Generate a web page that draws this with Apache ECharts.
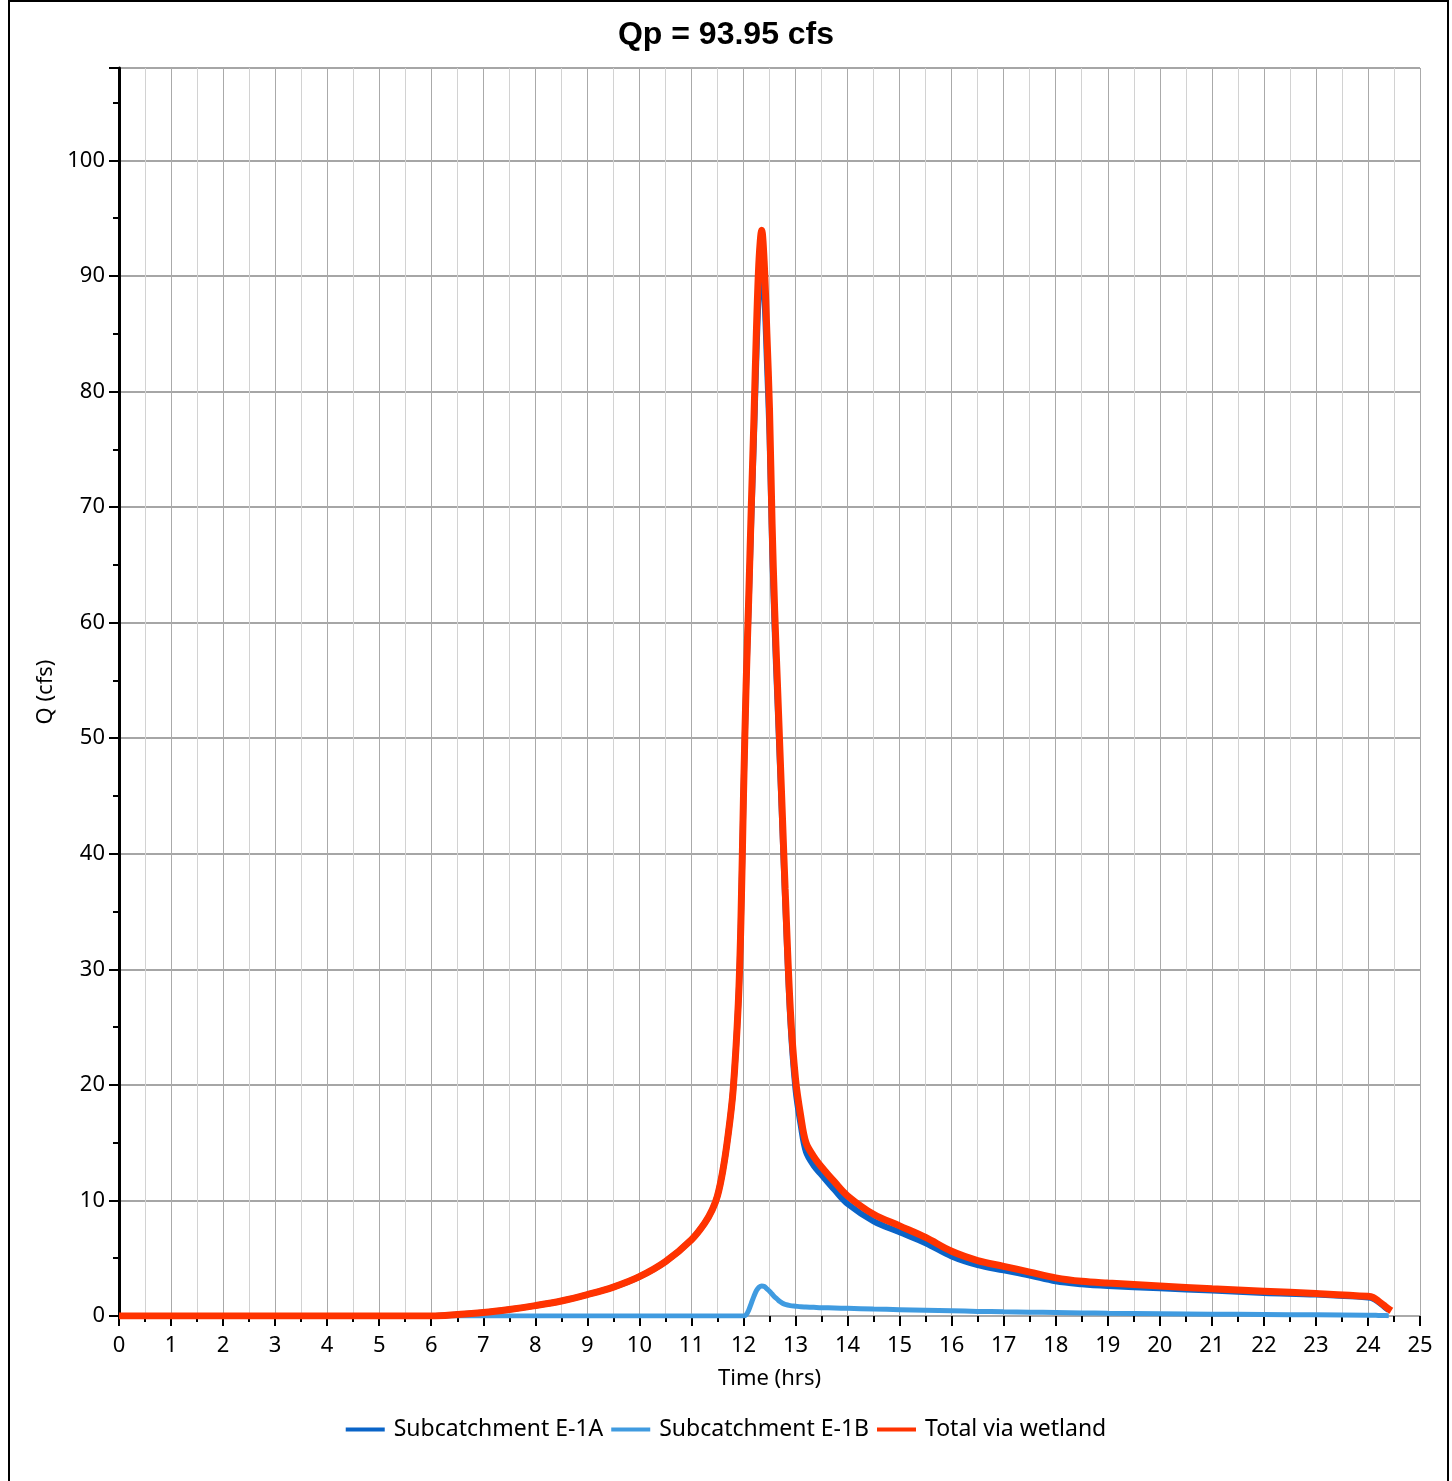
<!DOCTYPE html>
<html>
<head>
<meta charset="utf-8">
<script src="https://cdn.jsdelivr.net/npm/echarts@6/dist/echarts.min.js"></script>
<style>
  html, body { margin: 0; padding: 0; background: #fff; }
  #chart { width: 1452px; height: 1481px; }
</style>
</head>
<body>
<div id="chart"></div>
<script>
// time in hours
const hours = [0, 6, 6.5, 7, 7.5, 8, 8.5, 9, 9.5, 10, 10.5, 11, 11.25, 11.4, 11.5, 11.6, 11.7, 11.8, 11.9, 11.95,
  12, 12.05, 12.1, 12.15, 12.2, 12.25, 12.3, 12.35, 12.4, 12.45, 12.5, 12.55, 12.6, 12.65, 12.7, 12.75, 12.8,
  12.9, 13, 13.1, 13.2, 13.35, 13.5, 13.75, 14, 14.5, 15, 15.5, 16, 16.5, 17, 17.5, 18, 18.5, 19,
  20, 21, 22, 23, 24, 24.1, 24.2, 24.3, 24.4, 24.45];

// Subcatchment E-1A (cfs)
const flowE1A = [0, 0, 0.12, 0.3, 0.57, 0.9, 1.3, 1.85, 2.5, 3.4, 4.7, 6.6, 8.0, 9.2, 10.4, 12.5, 15.5, 19.5, 27, 34,
  45, 54.4, 61.5, 68.9, 75.8, 83.3, 89.0, 91.3, 88.4, 82.6, 76.3, 66.6, 59.3, 53.5, 47.7, 41.9, 36.0,
  25.6, 19.6, 16.5, 14.2, 13.0, 12.2, 10.9, 9.7, 8.2, 7.25, 6.3, 5.15, 4.4, 3.95, 3.5, 3.0, 2.75, 2.6,
  2.4, 2.2, 2.0, 1.85, 1.6, 1.5, 1.2, 0.85, 0.5, null];

// Subcatchment E-1B (cfs)
const flowE1B = [0, 0, 0, 0, 0, 0, 0, 0, 0, 0, 0, 0, 0, 0, 0, 0, 0, 0, 0, 0,
  0, 0.1, 0.5, 1.1, 1.7, 2.2, 2.5, 2.6, 2.55, 2.35, 2.15, 1.9, 1.65, 1.45, 1.25, 1.1, 1.0,
  0.9, 0.85, 0.8, 0.78, 0.75, 0.72, 0.69, 0.66, 0.6, 0.55, 0.5, 0.45, 0.4, 0.36, 0.33, 0.3, 0.27, 0.24,
  0.2, 0.16, 0.13, 0.1, 0.07, 0.06, 0.05, 0.04, 0.03, null];

// Total via wetland (cfs)
const flowTotal = [0, 0, 0.12, 0.3, 0.57, 0.9, 1.3, 1.85, 2.5, 3.4, 4.7, 6.6, 8.0, 9.2, 10.4, 12.5, 15.5, 19.5, 27, 34,
  45, 54.5, 62, 70, 77.5, 85.5, 91.5, 93.95, 91, 85, 78.5, 68.5, 61, 55, 49, 43, 37,
  26.5, 20.5, 17.3, 15, 13.8, 12.9, 11.6, 10.4, 8.8, 7.8, 6.8, 5.6, 4.8, 4.3, 3.8, 3.3, 3.0, 2.85,
  2.6, 2.35, 2.15, 1.95, 1.7, 1.6, 1.3, 0.95, 0.6, 0.45];

const seriesNames = ['Subcatchment E-1A', 'Subcatchment E-1B', 'Total via wetland'];
const seriesColors = ['#0a64c8', '#409be0', '#ff3300'];

const pairs = (vals) => hours.map((h, i) => vals[i] == null ? null : [h, vals[i]]).filter(p => p);

const font = 'Noto Sans';
const chart = echarts.init(document.getElementById('chart'));

chart.setOption({
  animation: false,
  title: {
    text: 'Qp = 93.95 cfs',
    left: 'center',
    top: 14,
    textStyle: { fontFamily: 'Liberation Sans', fontWeight: 'bold', fontSize: 32, color: '#000' }
  },
  graphic: [{
    type: 'rect',
    shape: { x: 9, y: 1, width: 1439, height: 1500 },
    style: { fill: 'none', stroke: '#000', lineWidth: 2 },
    silent: true
  }],
  legend: {
    bottom: 35,
    left: 'center',
    itemGap: 8,
    itemWidth: 39,
    itemHeight: 4,
    icon: 'rect',
    data: seriesNames,
    textStyle: { fontFamily: font, fontSize: 23, color: '#000', padding: [0, 0, 0, 4] }
  },
  grid: { left: 119, right: 32, top: 68, bottom: 165 },
  xAxis: {
    type: 'value',
    min: 0,
    max: 25,
    interval: 1,
    name: 'Time (hrs)',
    nameLocation: 'middle',
    nameGap: 52,
    nameTextStyle: { fontFamily: font, fontSize: 22, color: '#000' },
    axisLine: { onZero: false, lineStyle: { color: '#aaa', width: 2 } },
    axisTick: { length: 10, lineStyle: { color: '#000', width: 2 } },
    minorTick: { show: true, splitNumber: 2, length: 6, lineStyle: { color: '#000', width: 2 } },
    axisLabel: { fontFamily: font, fontSize: 22, color: '#000', margin: 19 },
    splitLine: { lineStyle: { color: '#aaa', width: 1 } },
    minorSplitLine: { show: true, lineStyle: { color: '#d2d2d2', width: 1 } }
  },
  yAxis: {
    type: 'value',
    min: 0,
    max: 108,
    interval: 10,
    name: 'Q (cfs)',
    nameLocation: 'middle',
    nameGap: 50,
    nameTextStyle: { fontFamily: font, fontSize: 22, color: '#000' },
    axisLine: { show: true, lineStyle: { color: '#000', width: 3 } },
    axisTick: { show: true, length: 10, lineStyle: { color: '#000', width: 2 } },
    minorTick: { show: true, splitNumber: 2, length: 6, lineStyle: { color: '#000', width: 2 } },
    axisLabel: { fontFamily: font, fontSize: 22, color: '#000', margin: 14,
      formatter: v => (v > 100 ? '' : v) },
    splitLine: { lineStyle: { color: '#a6a6a6', width: 2 } }
  },
  series: [
    {
      name: seriesNames[0], type: 'line', data: pairs(flowE1A), showSymbol: false,
      smooth: 0.35, color: seriesColors[0], lineStyle: { width: 6 }
    },
    {
      name: seriesNames[1], type: 'line', data: pairs(flowE1B), showSymbol: false,
      smooth: 0.35, color: seriesColors[1], lineStyle: { width: 5 }
    },
    {
      name: seriesNames[2], type: 'line', data: pairs(flowTotal), showSymbol: false,
      smooth: 0.35, color: seriesColors[2], lineStyle: { width: 7 }
    }
  ]
});
</script>
</body>
</html>
